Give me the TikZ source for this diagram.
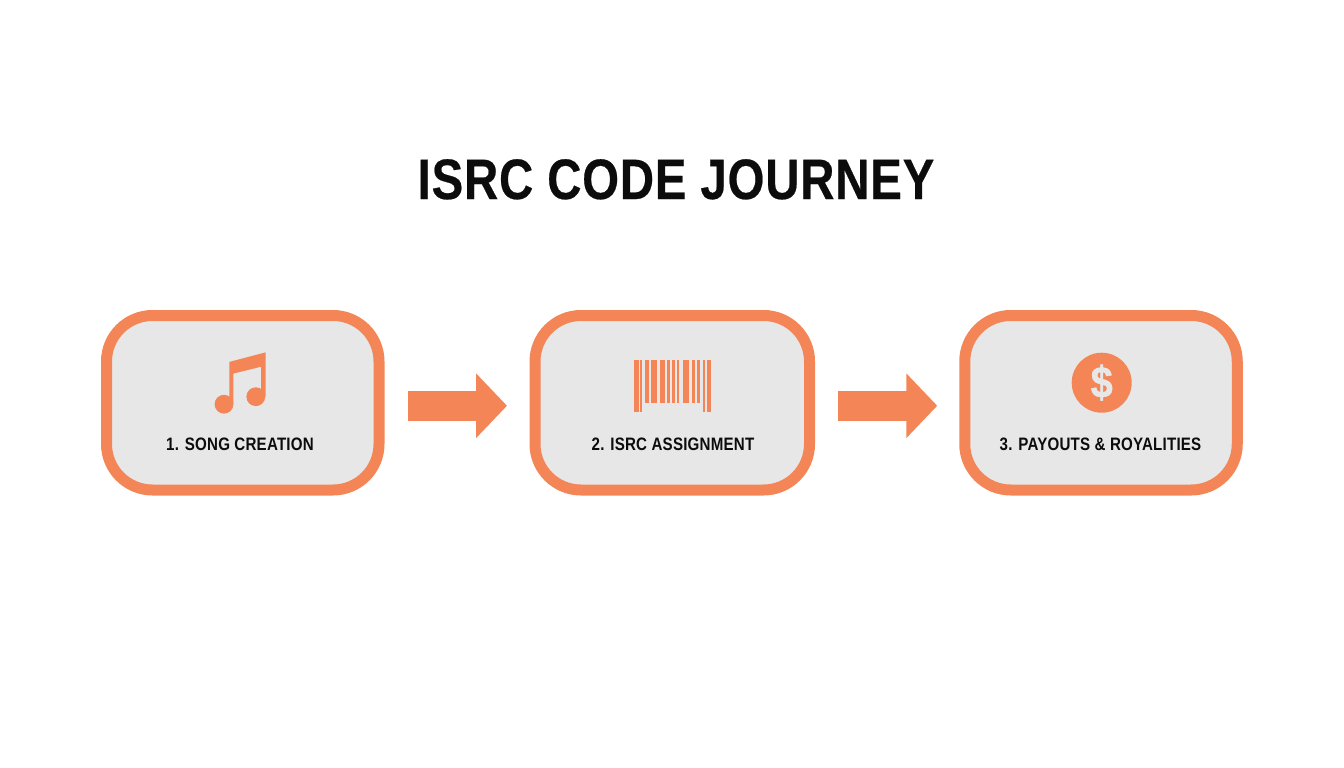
\documentclass[tikz,border=0pt]{standalone}
\usepackage{fontspec}
\setmainfont{Liberation Sans}
\newfontfamily\titlefont[FakeStretch=0.83,LetterSpace=1.5,FakeBold=0.4]{Liberation Sans Bold}
\newfontfamily\labelfont[FakeStretch=0.84,LetterSpace=1.2]{Liberation Sans Bold}
\newfontfamily\dollarfont[FakeStretch=0.9,FakeBold=1.2]{Liberation Sans Bold}
\usetikzlibrary{arrows.meta}
\definecolor{accent}{HTML}{F38556}
\definecolor{panel}{HTML}{E7E7E7}
\definecolor{ink}{HTML}{0C0C0C}
\tikzset{
  stage/.style={draw=accent,fill=panel,line width=11pt,rounded corners=46pt,inner sep=0pt,minimum height=174.5pt},
  stagelabel/.style={text=ink,anchor=base,inner sep=0pt,font=\labelfont\fontsize{18}{18}\selectfont},
  flow/.style={draw=accent,line width=30pt,-{Triangle[length=31pt,width=63pt,fill=accent]}},
  bar/.style={fill=accent,draw=none},
}
\begin{document}
\begin{tikzpicture}[x=1pt,y=-1pt]
\useasboundingbox (0,0) rectangle (1344,768);
\node[anchor=base,text=ink,inner sep=0pt,font=\titlefont\fontsize{57}{57}\selectfont] (title) at (676,199) {ISRC CODE JOURNEY};

\node[stage,minimum width=272.5pt] (s1) at (242.75,402.75) {};
\node[stage,minimum width=274.5pt] (s2) at (672.25,402.75) {};
\node[stage,minimum width=272.5pt] (s3) at (1101,402.75) {};

\draw[flow,shorten <=23.5pt,shorten >=22.5pt] ([yshift=-3pt]s1.east) -- ([yshift=-3pt]s2.west);
\draw[flow,shorten <=23pt,shorten >=22pt] ([yshift=-3pt]s2.east) -- ([yshift=-3pt]s3.west);

\node[stagelabel] (l1) at (240,450.5) {1. SONG CREATION};
\node[stagelabel] (l2) at (673,450.5) {2. ISRC ASSIGNMENT};
\node[stagelabel] (l3) at (1100.5,450.5) {3. PAYOUTS \& ROYALITIES};

% music note icon
\fill[accent] (229.3,361.9) -- (265.5,352.4) -- (265.5,396.7) -- (261,396.7) -- (261,366.7)
  -- (233.3,373.6) -- (233.3,404.3) -- (229.3,404.3) -- cycle;
\fill[accent] (255.8,396.7) circle[radius=9.4];
\fill[accent] (224,404.2) circle[radius=9.4];

% barcode icon
\foreach \a/\b in {634.3/638.7,640/642.3,702.7/704.7,706.7/710.7}
  \fill[bar] (\a,360) rectangle (\b,411.5);
\foreach \a/\b in {645/649.3,650.7/656.7,660/665,667.3/670,671.7/675,676.7/679.3,682.7/689.3,692.3/695,696.7/700}
  \fill[bar] (\a,360) rectangle (\b,402.5);

% dollar icon
\node[circle,fill=accent,minimum size=60pt,inner sep=0pt,text=panel,font=\dollarfont\fontsize{44}{44}\selectfont] (coin) at (1101.7,382.7) {\$};
\end{tikzpicture}
\end{document}
